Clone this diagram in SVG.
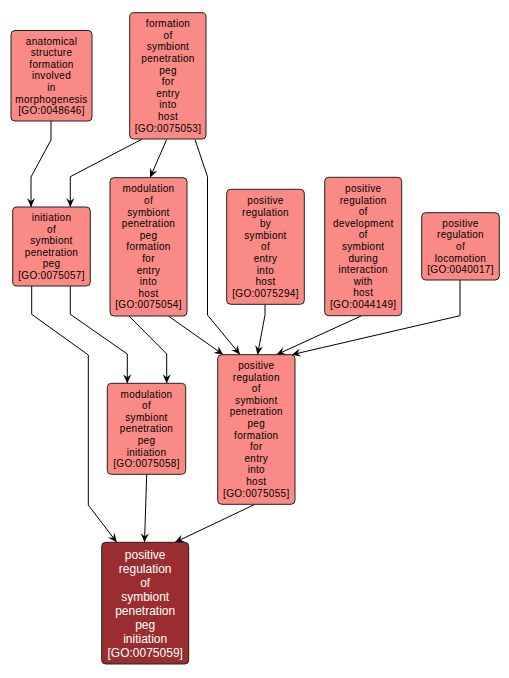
<svg xmlns="http://www.w3.org/2000/svg" width="509" height="678" viewBox="0 0 509 678">
<style>
.n rect{fill:#fa8a86;stroke:#222;stroke-width:1}
.n text{font-family:"Liberation Sans",Arial,sans-serif;font-size:10px;letter-spacing:0.3px;fill:#000;text-anchor:middle}
.d rect{fill:#992d2f;stroke:#222;stroke-width:1}
.d text{font-family:"Liberation Sans",Arial,sans-serif;font-size:12px;fill:#fff;text-anchor:middle}
.e path{fill:none;stroke:#000;stroke-width:1;marker-end:url(#a)}
</style>
<defs>
<marker id="a" viewBox="0 0 10 10" markerUnits="userSpaceOnUse" markerWidth="9" markerHeight="9" refX="10" refY="5" orient="auto">
<path d="M0,0.5 L10,5 L0,9.5 L3.5,5 z" fill="#000"/>
</marker>
</defs>
<rect width="509" height="678" fill="#fff"/>
<g class="e" id="edges">
<path d="M51,121 L51,140 L31,177 L31,207"/>
<path d="M141.7,139.3 L70.3,176.7 L70.3,207"/>
<path d="M166.7,139.5 L150,177.7"/>
<path d="M195,139.5 L207.5,176.7 L207.5,315 L240,354.5"/>
<path d="M31.7,286 L31.7,314.3 L88.3,355 L88.3,505 L116.7,542.3"/>
<path d="M70.3,286 L70.3,314.3 L127.3,354 L127.3,383.3"/>
<path d="M129,316 L166.7,354 L166.7,383.3"/>
<path d="M168.3,316 L223.3,354.7"/>
<path d="M265,304.3 L265,315 L257.5,354.7"/>
<path d="M361.7,315.7 L276.5,354.7"/>
<path d="M460,280 L460,315.7 L291.7,354.7"/>
<path d="M146.7,474.3 L144.5,542.3"/>
<path d="M255,504.3 L175,542.3"/>
</g>
<g class="n" id="GO0048646">
<rect x="11" y="30.5" width="81" height="90.5" rx="4"/>
<text x="51.5" y="44.5">anatomical</text><text x="51.5" y="56.1">structure</text><text x="51.5" y="67.7">formation</text><text x="51.5" y="79.3">involved</text><text x="51.5" y="90.9">in</text><text x="51.5" y="102.5">morphogenesis</text><text x="51.5" y="114.1">[GO:0048646]</text>
</g>
<g class="n" id="GO0075053">
<rect x="129.7" y="12.7" width="76.3" height="126.3" rx="4"/>
<text x="168" y="27.1">formation</text><text x="168" y="38.7">of</text><text x="168" y="50.3">symbiont</text><text x="168" y="61.9">penetration</text><text x="168" y="73.5">peg</text><text x="168" y="85.1">for</text><text x="168" y="96.7">entry</text><text x="168" y="108.3">into</text><text x="168" y="119.9">host</text><text x="168" y="131.5">[GO:0075053]</text>
</g>
<g class="n" id="GO0075057">
<rect x="12.7" y="207" width="77.6" height="79" rx="4"/>
<text x="51.5" y="221">initiation</text><text x="51.5" y="232.6">of</text><text x="51.5" y="244.2">symbiont</text><text x="51.5" y="255.8">penetration</text><text x="51.5" y="267.4">peg</text><text x="51.5" y="279">[GO:0075057]</text>
</g>
<g class="n" id="GO0075054">
<rect x="110" y="177.7" width="77" height="138.3" rx="4"/>
<text x="148.5" y="192.3">modulation</text><text x="148.5" y="203.9">of</text><text x="148.5" y="215.5">symbiont</text><text x="148.5" y="227.1">penetration</text><text x="148.5" y="238.7">peg</text><text x="148.5" y="250.3">formation</text><text x="148.5" y="261.9">for</text><text x="148.5" y="273.5">entry</text><text x="148.5" y="285.1">into</text><text x="148.5" y="296.7">host</text><text x="148.5" y="308.3">[GO:0075054]</text>
</g>
<g class="n" id="GO0075294">
<rect x="226.7" y="189.3" width="77.6" height="115" rx="4"/>
<text x="265.5" y="203.9">positive</text><text x="265.5" y="215.5">regulation</text><text x="265.5" y="227.1">by</text><text x="265.5" y="238.7">symbiont</text><text x="265.5" y="250.3">of</text><text x="265.5" y="261.9">entry</text><text x="265.5" y="273.5">into</text><text x="265.5" y="285.1">host</text><text x="265.5" y="296.7">[GO:0075294]</text>
</g>
<g class="n" id="GO0044149">
<rect x="324.7" y="177.3" width="77" height="138.4" rx="4"/>
<text x="363.2" y="192">positive</text><text x="363.2" y="203.6">regulation</text><text x="363.2" y="215.2">of</text><text x="363.2" y="226.8">development</text><text x="363.2" y="238.4">of</text><text x="363.2" y="250">symbiont</text><text x="363.2" y="261.6">during</text><text x="363.2" y="273.2">interaction</text><text x="363.2" y="284.8">with</text><text x="363.2" y="296.4">host</text><text x="363.2" y="308">[GO:0044149]</text>
</g>
<g class="n" id="GO0040017">
<rect x="421.7" y="212.7" width="77.6" height="67.3" rx="4"/>
<text x="460.5" y="226.7">positive</text><text x="460.5" y="238.3">regulation</text><text x="460.5" y="249.9">of</text><text x="460.5" y="261.5">locomotion</text><text x="460.5" y="273.1">[GO:0040017]</text>
</g>
<g class="n" id="GO0075058">
<rect x="107.3" y="383.3" width="78.4" height="91" rx="4"/>
<text x="146.5" y="397.6">modulation</text><text x="146.5" y="409.2">of</text><text x="146.5" y="420.8">symbiont</text><text x="146.5" y="432.4">penetration</text><text x="146.5" y="444">peg</text><text x="146.5" y="455.6">initiation</text><text x="146.5" y="467.2">[GO:0075058]</text>
</g>
<g class="n" id="GO0075055">
<rect x="217.7" y="354.7" width="77.3" height="149.6" rx="4"/>
<text x="256.3" y="369">positive</text><text x="256.3" y="380.6">regulation</text><text x="256.3" y="392.2">of</text><text x="256.3" y="403.8">symbiont</text><text x="256.3" y="415.4">penetration</text><text x="256.3" y="427">peg</text><text x="256.3" y="438.6">formation</text><text x="256.3" y="450.2">for</text><text x="256.3" y="461.8">entry</text><text x="256.3" y="473.4">into</text><text x="256.3" y="485">host</text><text x="256.3" y="496.6">[GO:0075055]</text>
</g>
<g class="d" id="GO0075059">
<rect x="101.7" y="542.3" width="87" height="121.7" rx="4"/>
<text x="145.2" y="559">positive</text><text x="145.2" y="573">regulation</text><text x="145.2" y="587">of</text><text x="145.2" y="601">symbiont</text><text x="145.2" y="615">penetration</text><text x="145.2" y="629">peg</text><text x="145.2" y="643">initiation</text><text x="145.2" y="657">[GO:0075059]</text>
</g>
</svg>
